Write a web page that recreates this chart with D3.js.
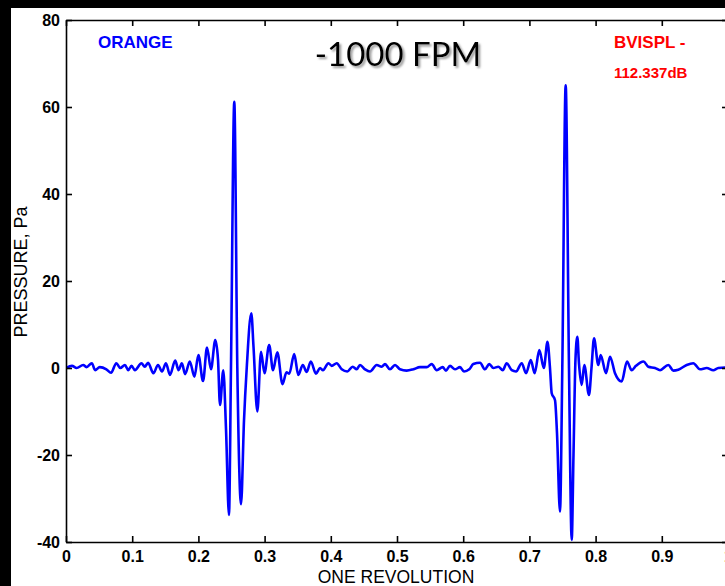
<!DOCTYPE html>
<html>
<head>
<meta charset="utf-8">
<script src="https://cdn.jsdelivr.net/npm/d3@7/dist/d3.min.js"></script>
<style>
  html, body { margin: 0; padding: 0; background: #000; }
  svg { display: block; }
</style>
</head>
<body>
<svg id="chart" width="725" height="586"></svg>
<script>
// ---- data ----
const revolution = [
  0.000, 0.009, 0.016, 0.026, 0.031, 0.039, 0.044, 0.051, 0.061, 0.068,
  0.076, 0.082, 0.089, 0.094, 0.099, 0.104, 0.114, 0.119, 0.124, 0.132,
  0.139, 0.145, 0.151, 0.157, 0.165, 0.170, 0.175, 0.180, 0.187, 0.194,
  0.200, 0.207, 0.213, 0.219, 0.2255, 0.2296, 0.2326, 0.2376, 0.2417, 0.2462,
  0.2492, 0.2542, 0.2588, 0.2644, 0.2689, 0.2730, 0.2799, 0.2832, 0.2890, 0.2946,
  0.2998, 0.3069, 0.3127, 0.3192, 0.3270, 0.3331, 0.3373, 0.3447, 0.3509, 0.3577,
  0.3636, 0.3698, 0.3776, 0.3837, 0.3882, 0.3965, 0.4014, 0.4089, 0.4165, 0.4249,
  0.4331, 0.4391, 0.4441, 0.4517, 0.4592, 0.4693, 0.4769, 0.4819, 0.4894, 0.4970,
  0.5045, 0.5146, 0.5246, 0.5347, 0.5449, 0.5524, 0.5600, 0.5690, 0.5740, 0.5801,
  0.5876, 0.5952, 0.6012, 0.6092, 0.6153, 0.6254, 0.6329, 0.6394, 0.6455, 0.6530,
  0.6597, 0.6657, 0.6733, 0.6798, 0.6884, 0.6949, 0.7021, 0.7080, 0.7150, 0.7218,
  0.7273, 0.7311, 0.7337, 0.7387, 0.7417, 0.7462, 0.7497, 0.7548, 0.7598, 0.7639,
  0.7666, 0.7696, 0.7724, 0.7749, 0.7790, 0.7829, 0.7900, 0.7938, 0.7976, 0.8041,
  0.8077, 0.8157, 0.8218, 0.8293, 0.8394, 0.8474, 0.8545, 0.8610, 0.8724, 0.8796,
  0.8897, 0.8973, 0.9098, 0.9174, 0.9249, 0.9376, 0.9476, 0.9577, 0.9678, 0.9778,
  0.9853, 0.9955, 1.000
];
const pressure = [
  0.0, 0.5, 0.0, 0.7, 0.2, 1.1, -0.5, 0.2, -0.3, -1.1,
  1.1, 0.0, 0.7, -0.5, 0.5, -0.5, 1.1, 0.3, 1.2, -1.2,
  0.7, -0.8, 1.1, -1.6, 1.7, -0.5, 1.1, -1.4, 1.5, -2.0,
  3.0, -3.0, 4.7, -0.3, 6.4, 2.0, -8.5, -0.5, -14.0, -33.8,
  0.0, 61.2, 0.0, -31.3, -12.0, 0.0, 12.6, 5.0, -10.0, 3.75,
  -1.2, 5.3, -0.5, 3.6, -3.7, -1.0, -1.3, 3.2, -1.6, 0.7,
  -0.9, 1.5, -1.3, 0.0, -0.5, 1.1, 0.5, 1.1, -0.3, -0.8,
  0.3, -0.3, 0.7, -0.3, -0.8, 0.7, 0.3, 0.9, -0.3, 0.7,
  -0.3, -0.6, -0.3, 0.2, 0.2, 0.9, -0.5, 0.2, -0.6, 0.5,
  -0.3, 0.2, -0.8, -0.3, 0.9, 1.2, -0.3, 0.9, 0.0, 0.3,
  -0.5, 1.1, -0.5, -0.8, 1.1, -1.2, 1.8, -1.2, 4.1, 0.0,
  6.0, 0.0, -5.8, -7.4, -15.0, -33.0, 0.0, 65.0, 0.0, -39.5,
  -20.0, 2.0, 7.2, 1.0, -3.9, 0.7, -6.2, 0.0, 6.8, 0.7,
  3.0, -1.2, 2.6, -1.2, -3.1, 1.5, -0.5, 0.5, 1.5, 0.3,
  0.0, -0.5, 0.7, -0.6, -0.4, 0.7, 1.1, -0.3, 0.0, -0.5,
  0.0, 0.1, 0.0
];
const xTickValues = [0, 0.1, 0.2, 0.3, 0.4, 0.5, 0.6, 0.7, 0.8, 0.9, 1];
const xTickLabels = ["0", "0.1", "0.2", "0.3", "0.4", "0.5", "0.6", "0.7", "0.8", "0.9", "1"];
const yTickValues = [-40, -20, 0, 20, 40, 60, 80];
const yTickLabels = ["-40", "-20", "0", "20", "40", "60", "80"];
const xDomain = [0, 1];
const yDomain = [-40, 80];
const titleText = "-1000 FPM";
const xLabelText = "ONE REVOLUTION";
const yLabelText = "PRESSURE, Pa";
const leftNote = "ORANGE";
const rightNote = ["BVISPL -", "112.337dB"];

// ---- layout ----
const svg = d3.select("#chart");
const W = 725, H = 586;
const plot = { left: 66, top: 20, right: 728, bottom: 542 };

svg.append("rect").attr("x", 0).attr("y", 0).attr("width", W).attr("height", H).attr("fill", "#000");
svg.append("rect").attr("x", 11).attr("y", 8).attr("width", W - 11).attr("height", H - 8).attr("fill", "#fff");

const x = d3.scaleLinear().domain(xDomain).range([plot.left, plot.right]);
const y = d3.scaleLinear().domain(yDomain).range([plot.bottom, plot.top]);

const defs = svg.append("defs");
defs.append("clipPath").attr("id", "plotclip")
  .append("rect").attr("x", plot.left).attr("y", plot.top - 1)
  .attr("width", plot.right - plot.left).attr("height", plot.bottom - plot.top + 2);
const shadow = defs.append("filter").attr("id", "shadow")
  .attr("x", "-10%").attr("y", "-30%").attr("width", "130%").attr("height", "170%");
shadow.append("feDropShadow").attr("dx", 2).attr("dy", 2).attr("stdDeviation", 1.3)
  .attr("flood-color", "#777").attr("flood-opacity", 0.75);

// data line
const series = revolution.map((r, i) => ({ r, p: pressure[i] }));
const line = d3.line().x(d => x(d.r)).y(d => y(d.p)).curve(d3.curveMonotoneX);
svg.append("g").attr("clip-path", "url(#plotclip)")
  .append("path").datum(series)
  .attr("d", line)
  .attr("fill", "none")
  .attr("stroke", "#0000ff")
  .attr("stroke-width", 2.6)
  .attr("stroke-linejoin", "round");

// axes
const tickFont = "'Liberation Sans', Arial, sans-serif";
const xFmt = d => xTickLabels[xTickValues.indexOf(d)];
const yFmt = d => yTickLabels[yTickValues.indexOf(d)];

const gx = svg.append("g").attr("transform", `translate(0,${plot.bottom})`)
  .call(d3.axisBottom(x).tickValues(xTickValues).tickFormat(xFmt).tickSizeInner(-6).tickSizeOuter(0).tickPadding(9));
const gy = svg.append("g").attr("transform", `translate(${plot.left},0)`)
  .call(d3.axisLeft(y).tickValues(yTickValues).tickFormat(yFmt).tickSizeInner(-6).tickSizeOuter(0).tickPadding(6));
const gt = svg.append("g").attr("transform", `translate(0,${plot.top})`)
  .call(d3.axisTop(x).tickValues(xTickValues).tickFormat("").tickSizeInner(-6).tickSizeOuter(0));
const gr = svg.append("g").attr("transform", `translate(${plot.right},0)`)
  .call(d3.axisRight(y).tickValues(yTickValues).tickFormat("").tickSizeInner(-6).tickSizeOuter(0));

[gx, gy, gt, gr].forEach(g => {
  g.selectAll(".domain").attr("stroke", "#000").attr("stroke-width", 1.6);
  g.selectAll(".tick line").attr("stroke", "#000").attr("stroke-width", 1.6);
  g.selectAll(".tick text").attr("fill", "#000")
    .style("font-family", tickFont).style("font-size", "16px").style("font-weight", "bold");
});

// axis labels
svg.append("text")
  .attr("x", (plot.left + plot.right) / 2 - 1).attr("y", 583)
  .attr("text-anchor", "middle")
  .style("font-family", tickFont).style("font-size", "17.5px")
  .text(xLabelText);
svg.append("text")
  .attr("transform", `translate(27,${272}) rotate(-90)`)
  .attr("text-anchor", "middle")
  .style("font-family", tickFont).style("font-size", "18px")
  .text(yLabelText);

// title with soft shadow
svg.append("text")
  .attr("x", 398).attr("y", 66)
  .attr("text-anchor", "middle")
  .attr("fill", "#000").attr("filter", "url(#shadow)")
  .style("font-family", "Lato, 'Open Sans', sans-serif").style("font-size", "33px")
  .text(titleText);

// notes
svg.append("text")
  .attr("x", 98).attr("y", 48)
  .attr("fill", "#0000ff")
  .style("font-family", tickFont).style("font-size", "17px").style("font-weight", "bold")
  .text(leftNote);
svg.append("text")
  .attr("x", 614).attr("y", 48)
  .attr("fill", "#ff0000")
  .style("font-family", tickFont).style("font-size", "17px").style("font-weight", "bold")
  .text(rightNote[0]);
svg.append("text")
  .attr("x", 614).attr("y", 78)
  .attr("fill", "#ff0000")
  .style("font-family", tickFont).style("font-size", "15px").style("font-weight", "bold")
  .text(rightNote[1]);
</script>
</body>
</html>
